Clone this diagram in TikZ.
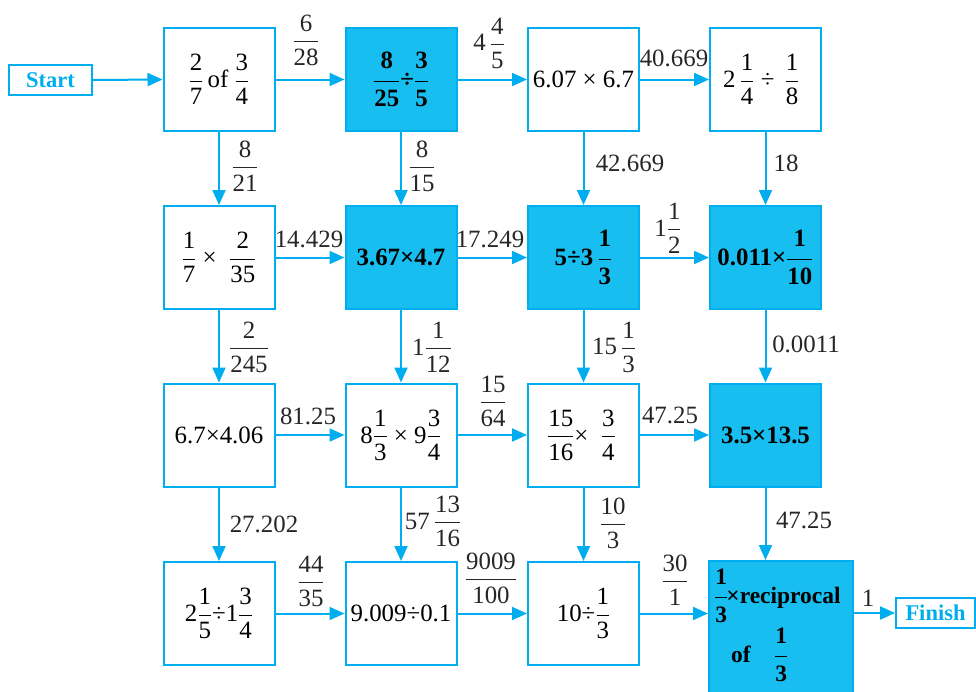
\documentclass[tikz,border=0pt]{standalone}
\usepackage{amsmath}
\usepackage{fontspec}
\setmainfont{Liberation Serif}
\usetikzlibrary{arrows.meta}
\definecolor{cline}{RGB}{0,174,239}
\definecolor{cfill}{RGB}{24,190,240}
\newcommand{\bigf}{\fontsize{24.88}{30}\selectfont}
\newcommand{\fr}[2]{\ensuremath{\genfrac{}{}{0.9pt}{0}{\text{#1}}{\text{#2}}}}
\begin{document}
\begin{tikzpicture}[x=1pt,y=-1pt,font=\bigf,
  box/.style={draw=cline,line width=2pt,fill=white,minimum width=111pt,minimum height=103pt,inner sep=0pt},
  hbox/.style={box,fill=cfill,font=\bigf\bfseries\boldmath},
  lab/.style={inner sep=0pt,text=black!85},
  arr/.style={draw=cline,line width=2pt,-{Triangle[length=15pt,width=13pt]}},
  sebox/.style={draw=cline,line width=1.8pt,fill=white,text=cline,inner sep=0pt,font=\fontsize{22.5}{26}\selectfont\bfseries}]
\useasboundingbox (0,0) rectangle (976,691);
\clip (0,0) rectangle (976,691);
% start / finish
\node[sebox,minimum width=83pt,minimum height=30pt] (st) at (50.5,80) {Start};
\node[sebox,minimum width=79pt,minimum height=30pt] (fin) at (935.5,613) {Finish};
% row 1
\node[box]  (b11) at (219,79.5)   {\fr{2}{7}\,of \fr{3}{4}};
\node[hbox] (b12) at (401,79.5)   {\fr{8}{25}÷\fr{3}{5}};
\node[box]  (b13) at (583.5,79.5) {6.07 × 6.7};
\node[box]  (b14) at (765.5,79.5) {2\,\fr{1}{4} ÷ \,\fr{1}{8}\,\,};
% row 2
\node[box]  (b21) at (219,257.5)   {\fr{1}{7} × \ \fr{2}{35}};
\node[hbox] (b22) at (401,257.5)   {3.67×4.7};
\node[hbox] (b23) at (583.5,257.5) {5÷3\,\fr{1}{3}};
\node[hbox] (b24) at (765.5,257.5) {0.011×\fr{1}{10}};
% row 3
\node[box]  (b31) at (219,435)   {6.7×4.06};
\node[box]  (b32) at (401,435)   {8\fr{1}{3} × 9\fr{3}{4}};
\node[box]  (b33) at (583.5,435) {\fr{15}{16}× \ \fr{3}{4}\,};
\node[hbox] (b34) at (765.5,435) {3.5×13.5};
% row 4
\node[box]  (b41) at (219,613.5)   {2\fr{1}{5}÷1\fr{3}{4}};
\node[box]  (b42) at (401,613.5)   {9.009÷0.1};
\node[box]  (b43) at (583.5,613.5) {10÷\fr{1}{3}};
\node[hbox,minimum width=144pt,minimum height=140pt] (b44) at (781,631) {};
\node[inner sep=0pt,anchor=west,font=\fontsize{23.5}{28}\selectfont\bfseries\boldmath] (t44a) at (714,596) {\fr{1}{3}\kern-2pt×reciprocal};
\node[inner sep=0pt,anchor=west,font=\fontsize{23.5}{28}\selectfont\bfseries\boldmath] (t44b) at (731,655) {of\quad\fr{1}{3}};
% horizontal arrows
\draw[arr] (st.east) -- (b11.west);
\draw[arr] (b11.east) -- (b12.west);
\draw[arr] (b12.east) -- (b13.west);
\draw[arr] (b13.east) -- (b14.west);
\draw[arr] (b21.east) -- (b22.west);
\draw[arr] (b22.east) -- (b23.west);
\draw[arr] (b23.east) -- (b24.west);
\draw[arr] (b31.east) -- (b32.west);
\draw[arr] (b32.east) -- (b33.west);
\draw[arr] (b33.east) -- (b34.west);
\draw[arr] (b41.east) -- (b42.west);
\draw[arr] (b42.east) -- (b43.west);
\draw[arr] (b43.east) -- (b43.east -| b44.west);
\draw[arr] (fin.west -| b44.east) -- (fin.west);
% vertical arrows
\draw[arr] (b11.south) -- (b21.north);
\draw[arr] (b12.south) -- (b22.north);
\draw[arr] (b13.south) -- (b23.north);
\draw[arr] (b14.south) -- (b24.north);
\draw[arr] (b21.south) -- (b31.north);
\draw[arr] (b22.south) -- (b32.north);
\draw[arr] (b23.south) -- (b33.north);
\draw[arr] (b24.south) -- (b34.north);
\draw[arr] (b31.south) -- (b41.north);
\draw[arr] (b32.south) -- (b42.north);
\draw[arr] (b33.south) -- (b43.north);
\draw[arr] (b34.south) -- (b34.south |- b44.north);
% labels
\node[lab] (l1) at (306,40) {\fr{6}{28}};
\node[lab] (l2) at (489,43) {4\,\fr{4}{5}};
\node[lab] (l3) at (674,58) {40.669};
\node[lab] (l4) at (245,166) {\fr{8}{21}};
\node[lab] (l5) at (422,166) {\fr{8}{15}};
\node[lab] (l6) at (630,163) {42.669};
\node[lab] (l7) at (786,163) {18};
\node[lab] (l8) at (309,239) {14.429};
\node[lab] (l9) at (490,239) {17.249};
\node[lab] (l10) at (668,228) {1\fr{1}{2}};
\node[lab] (l11) at (249,347) {\fr{2}{245}};
\node[lab] (l12) at (432,347) {1\fr{1}{12}};
\node[lab] (l13) at (614,347) {15\,\fr{1}{3}};
\node[lab] (l14) at (806,344) {0.0011};
\node[lab] (l15) at (308,416) {81.25};
\node[lab] (l16) at (493,401) {\fr{15}{64}};
\node[lab] (l17) at (670,415) {47.25};
\node[lab] (l18) at (264,524) {27.202};
\node[lab] (l19) at (433,521) {57\,\fr{13}{16}};
\node[lab] (l20) at (613,523) {\fr{10}{3}};
\node[lab] (l21) at (804,520) {47.25};
\node[lab] (l22) at (311,581) {\fr{44}{35}};
\node[lab] (l23) at (491,578) {\fr{9009}{100}};
\node[lab] (l24) at (675,580) {\fr{30}{1}};
\node[lab] (l25) at (868,598) {1};
\end{tikzpicture}
\end{document}
